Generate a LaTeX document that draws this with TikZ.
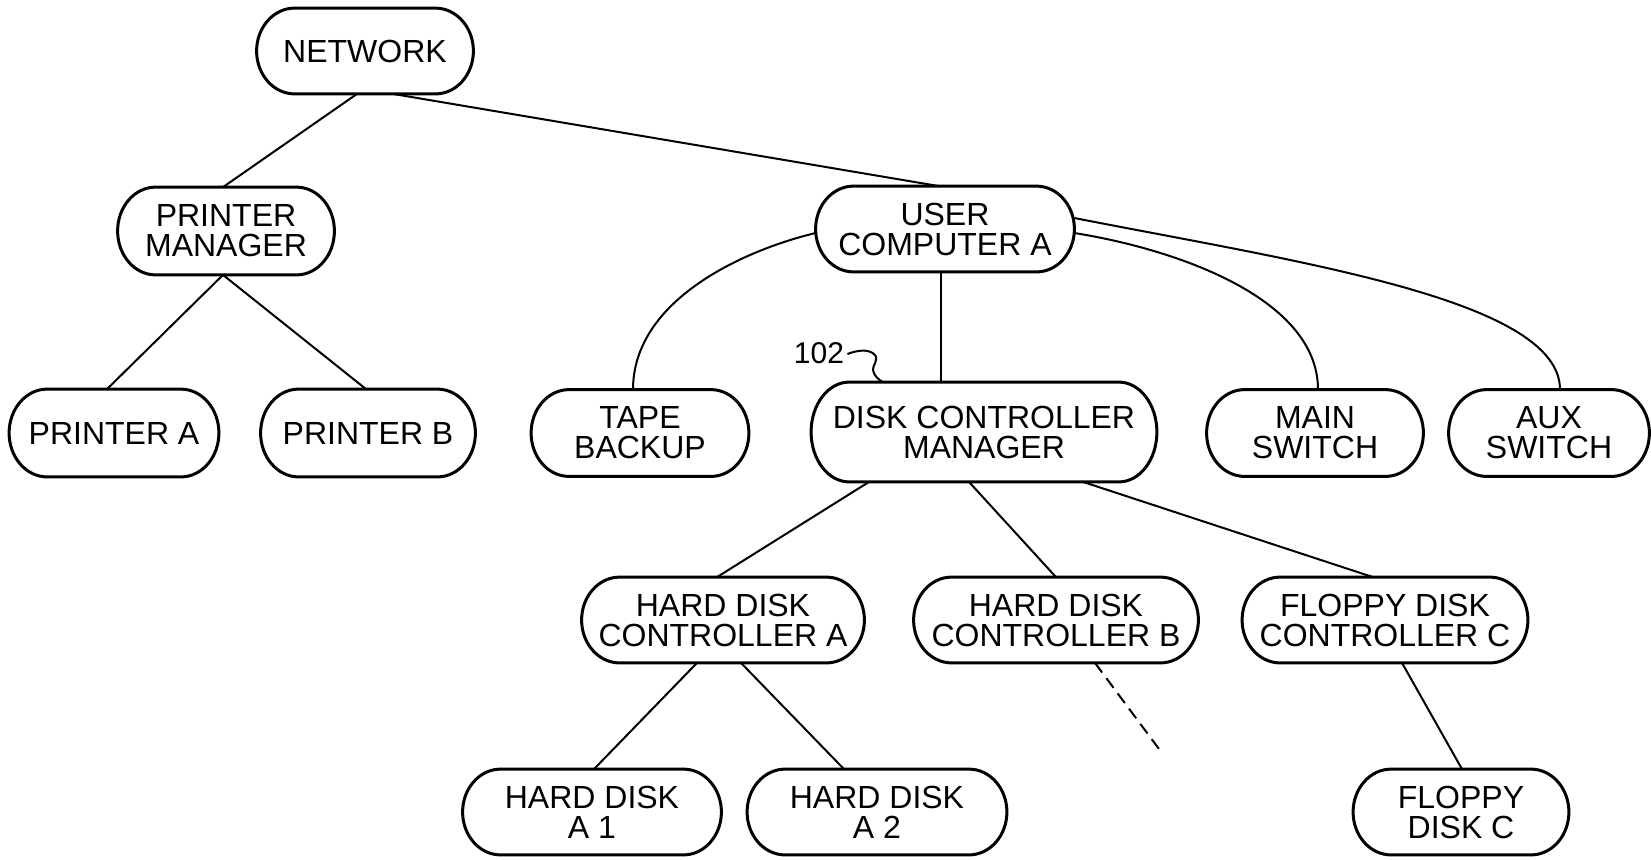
\documentclass[tikz,border=0pt]{standalone}
\usepackage{fontspec}
\setmainfont{Liberation Sans}
\usetikzlibrary{calc}
\tikzset{
  box/.style={inner sep=0pt, align=center, font=\fontsize{16}{15}\selectfont},
  pillline/.style={line width=1.5pt},
  conn/.style={line width=1pt},
  dashconn/.style={line width=1pt, dash pattern=on 6pt off 3.5pt},
}
\newcommand\pillborder[1]{%
  \draw[pillline] let \p1=(#1.north east), \p2=(#1.south west) in
   ({\x2+19pt},\y1) -- ({\x1-19pt},\y1)
   arc[start angle=90,end angle=-90,x radius=19pt,y radius={(\y1-\y2)/2}]
   -- ({\x2+19pt},\y2)
   arc[start angle=270,end angle=90,x radius=19pt,y radius={(\y1-\y2)/2}]
   -- cycle;}
\begin{document}
\begin{tikzpicture}[x=0.5pt,y=-0.5pt]
\useasboundingbox (0,0) rectangle (1651,859);
% nodes
\node[box, minimum width=108pt, minimum height=42.5pt] (NET) at (365,51) {NETWORK};
\node[box, minimum width=108pt, minimum height=43.5pt] (PM) at (226,231) {PRINTER\\MANAGER};
\node[box, minimum width=104.5pt, minimum height=43.5pt] (PA) at (114,433) {PRINTER A};
\node[box, minimum width=107pt, minimum height=43.5pt] (PB) at (368,433) {PRINTER B};
\node[box, minimum width=129pt, minimum height=42.5pt] (UCA) at (945,229) {USER\\COMPUTER A};
\node[box, minimum width=108.5pt, minimum height=43pt] (TB) at (640,433) {TAPE\\BACKUP};
\node[box, minimum width=172.5pt, minimum height=49.5pt] (DCM) at (984,432) {DISK CONTROLLER\\MANAGER};
\node[box, minimum width=108pt, minimum height=43pt] (MS) at (1315,433) {MAIN\\SWITCH};
\node[box, minimum width=100pt, minimum height=43pt] (AUX) at (1549,433) {AUX\\SWITCH};
\node[box, minimum width=141pt, minimum height=42.5pt] (HDCA) at (723,620) {HARD DISK\\CONTROLLER A};
\node[box, minimum width=142pt, minimum height=42.5pt] (HDCB) at (1056,620) {HARD DISK\\CONTROLLER B};
\node[box, minimum width=142.5pt, minimum height=42.5pt] (FDCC) at (1385,620) {FLOPPY DISK\\CONTROLLER C};
\node[box, minimum width=129pt, minimum height=42.5pt] (A1) at (592,812) {HARD DISK\\A 1};
\node[box, minimum width=129.5pt, minimum height=42.5pt] (A2) at (877,812) {HARD DISK\\A 2};
\node[box, minimum width=107.5pt, minimum height=42.5pt] (FDC) at (1461,812) {FLOPPY\\DISK C};
\node[inner sep=0pt, font=\fontsize{15}{15}\selectfont] (n102) at (819,353) {102};
% borders
\foreach \nm in {NET,PM,PA,PB,UCA,TB,DCM,MS,AUX,HDCA,HDCB,FDCC,A1,A2,FDC}{\pillborder{\nm}}
% connectors
\draw[conn] ($(NET.south)+(-8,0)$) -- ($(PM.north)+(-3,0)$);
\draw[conn] ($(NET.south)+(28,0)$) -- ($(UCA.north)+(-6,0)$);
\draw[conn] ($(PM.south)+(-3,0)$) -- ($(PA.north)+(-7,0)$);
\draw[conn] ($(PM.south)+(-3,0)$) -- ($(PB.north)+(-2,0)$);
\draw[conn] ($(UCA.west)+(0,4)$) .. controls +(-71,17) and +(0,-90) .. ($(TB.north)+(-7,0)$);
\draw[conn] ($(UCA.south)+(-4,0)$) coordinate (u) -- (u |- DCM.north);
\draw[conn] ($(UCA.east)+(0,4)$) .. controls +(106,17) and +(0,-90) .. ($(MS.north)+(3,0)$);
\draw[conn] ($(UCA.east)+(0,-11)$) .. controls +(224,44) and +(0,-90) .. ($(AUX.north)+(11,0)$);
\draw[conn] ($(DCM.south)+(-115,0)$) -- ($(HDCA.north)+(-6,0)$);
\draw[conn] ($(DCM.south)+(-15,0)$) -- (HDCB.north);
\draw[conn] ($(DCM.south)+(99,0)$) -- ($(FDCC.north)+(-12,0)$);
\draw[conn] ($(HDCA.south)+(-26,0)$) -- ($(A1.north)+(2,0)$);
\draw[conn] ($(HDCA.south)+(18,0)$) -- ($(A2.north)+(-33,0)$);
\draw[conn] ($(FDCC.south)+(17,0)$) -- ($(FDC.north)+(1,0)$);
\coordinate (dend) at (1162,753);
\draw[dashconn] ($(HDCB.south)+(39,0)$) -- (dend);
% 102 leader
\draw[conn] ($(n102.east)+(3,1)$) .. controls (858,350) and (868,349) .. (874,354)
  .. controls (880,359) and (872,366) .. (873,370)
  .. controls (874,376) and (879,380) .. ($(DCM.north)+(-101,0)$);
\end{tikzpicture}
\end{document}
